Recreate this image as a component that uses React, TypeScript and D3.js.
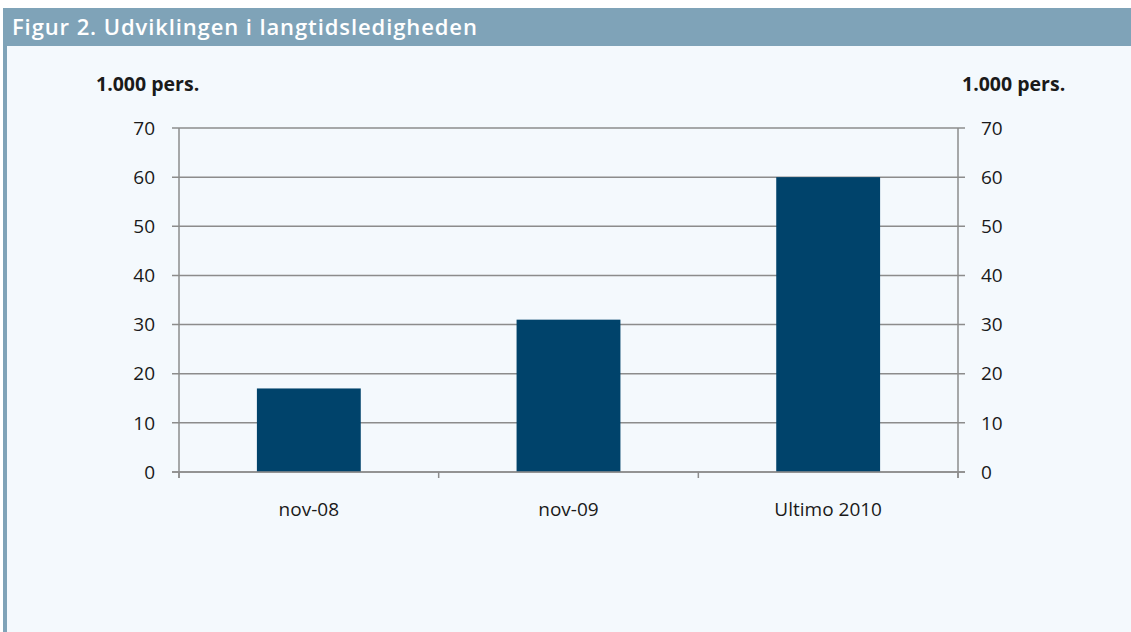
import React, { useEffect, useRef } from 'react';
import * as d3 from 'd3';

const categories = ['nov-08', 'nov-09', 'Ultimo 2010'];
const values = [17, 31, 60];
const yTicks = [0, 10, 20, 30, 40, 50, 60, 70];
const title = 'Figur 2. Udviklingen i langtidsledigheden';
const unitLabel = '1.000 pers.';

const App = () => {
  const svgRef = useRef<SVGSVGElement>(null);

  useEffect(() => {
    const svg = d3.select(svgRef.current);
    svg.selectAll('*').remove();

    const W = 1131, H = 632;
    const font = "'Open Sans', sans-serif";
    const left = 179, right = 958, top = 128, bottom = 472;

    // panel
    svg.append('rect').attr('x', 0).attr('y', 0).attr('width', W).attr('height', H).attr('fill', '#ffffff');
    svg.append('rect').attr('x', 3).attr('y', 8).attr('width', W - 3).attr('height', H - 8).attr('fill', '#f4f9fd');
    svg.append('rect').attr('x', 3).attr('y', 8).attr('width', W - 3).attr('height', 38).attr('fill', '#7fa3b8');
    svg.append('rect').attr('x', 3).attr('y', 46).attr('width', 4).attr('height', H - 46).attr('fill', '#7fa3b8');

    svg.append('text')
      .attr('x', 12).attr('y', 35)
      .attr('fill', '#ffffff')
      .style('font-family', font).style('font-size', '22px').style('font-weight', 600)
      .style('letter-spacing', '0.9px')
      .text(title);

    const x = d3.scaleBand().domain(categories).range([left, right]).paddingInner(0.6).paddingOuter(0.3);
    const xb = d3.scaleBand().domain(categories).range([left, right]);
    const y = d3.scaleLinear().domain([0, 70]).range([bottom, top]);

    const g = svg.append('g');

    // gridlines
    g.selectAll('.grid').data(yTicks).enter().append('line')
      .attr('x1', left - 7).attr('x2', right + 7)
      .attr('y1', d => y(d)).attr('y2', d => y(d))
      .attr('stroke', '#8c8c8c').attr('stroke-width', 1.5);

    // bars
    g.selectAll('.bar').data(values).enter().append('rect')
      .attr('x', (d, i) => x(categories[i])!)
      .attr('width', x.bandwidth())
      .attr('y', d => y(d))
      .attr('height', d => y(0) - y(d))
      .attr('fill', '#00436b');

    // axes lines
    [left, right].forEach(px => {
      g.append('line').attr('x1', px).attr('x2', px).attr('y1', top).attr('y2', bottom + 6)
        .attr('stroke', '#8c8c8c').attr('stroke-width', 1.5);
    });
    g.append('line').attr('x1', left - 7).attr('x2', right + 7).attr('y1', bottom).attr('y2', bottom)
      .attr('stroke', '#8c8c8c').attr('stroke-width', 1.5);

    // category boundary ticks
    const bounds = categories.map(c => xb(c)!).concat([right]);
    g.selectAll('.xtick').data(bounds).enter().append('line')
      .attr('x1', d => d).attr('x2', d => d)
      .attr('y1', bottom).attr('y2', bottom + 6)
      .attr('stroke', '#8c8c8c').attr('stroke-width', 1.5);

    // y labels
    g.selectAll('.yl').data(yTicks).enter().append('text')
      .attr('x', 155).attr('y', d => y(d)).attr('dy', '0.35em')
      .attr('text-anchor', 'end')
      .style('font-family', font).style('font-size', '19px').attr('fill', '#1a1a1a')
      .text(d => d);
    g.selectAll('.yr').data(yTicks).enter().append('text')
      .attr('x', 981).attr('y', d => y(d)).attr('dy', '0.35em')
      .attr('text-anchor', 'start')
      .style('font-family', font).style('font-size', '19px').attr('fill', '#1a1a1a')
      .text(d => d);

    // x labels
    g.selectAll('.xl').data(categories).enter().append('text')
      .attr('x', d => xb(d)! + xb.bandwidth() / 2).attr('y', 516)
      .attr('text-anchor', 'middle')
      .style('font-family', font).style('font-size', '19px').attr('fill', '#1a1a1a')
      .text(d => d);

    // unit labels
    svg.append('text').attr('x', 96).attr('y', 91)
      .style('font-family', font).style('font-size', '19.5px').style('font-weight', 700).attr('fill', '#1a1a1a')
      .text(unitLabel);
    svg.append('text').attr('x', 962).attr('y', 91)
      .style('font-family', font).style('font-size', '19.5px').style('font-weight', 700).attr('fill', '#1a1a1a')
      .text(unitLabel);
  }, []);

  return <svg ref={svgRef} width={1131} height={632} style={{ position: 'absolute', left: 0, top: 0 }}></svg>;
};

export default App;
